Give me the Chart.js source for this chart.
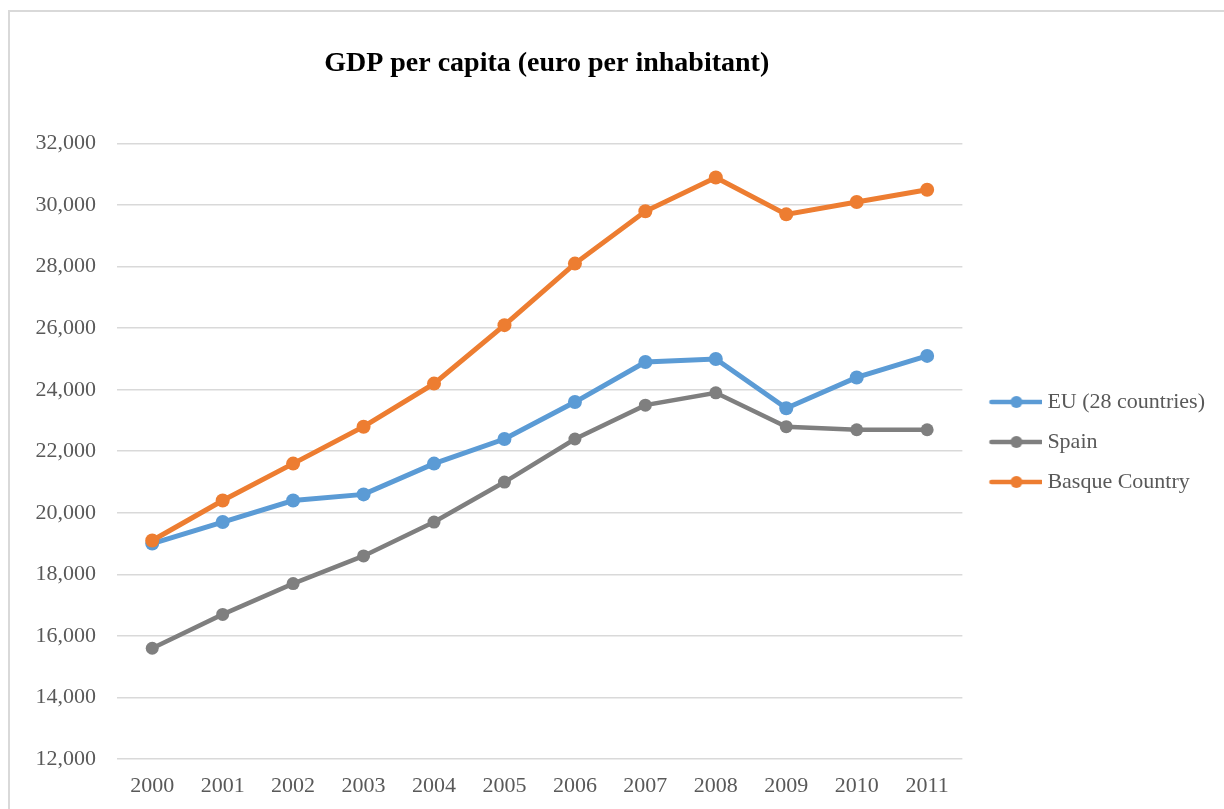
<!DOCTYPE html>
<html>
<head>
<meta charset="utf-8">
<script src="https://cdn.jsdelivr.net/npm/chart.js@4.4.1/dist/chart.umd.min.js"></script>
<style>
html,body{margin:0;padding:0;background:#ffffff;}
#wrap{position:relative;width:1224px;height:809px;overflow:hidden;}
#frame{position:absolute;left:8px;top:10px;width:1216px;height:799px;border-top:2.5px solid #d9d9d9;border-left:2.5px solid #d9d9d9;box-sizing:border-box;pointer-events:none;}
canvas{display:block;}
</style>
</head>
<body>
<div id="wrap"><canvas id="c" width="1224" height="809"></canvas><div id="frame"></div></div>
<script>
// ---- data ----
const years = ['2000','2001','2002','2003','2004','2005','2006','2007','2008','2009','2010','2011'];
const euValues     = [19000,19700,20400,20600,21600,22400,23600,24900,25000,23400,24400,25100];
const spainValues  = [15600,16700,17700,18600,19700,21000,22400,23500,23900,22800,22700,22700];
const basqueValues = [19100,20400,21600,22800,24200,26100,28100,29800,30900,29700,30100,30500];
const seriesNames  = ['EU (28 countries)','Spain','Basque Country'];
const titleText    = 'GDP per capita (euro per inhabitant)';
const yMin = 12000, yMax = 32000, yStep = 2000;

// ---- styles ----
const colors = ['#5B9BD5','#7F7F7F','#ED7D31'];
const lineWidths = [5,4.5,5];
const radii = [7,6.5,7];
const serif = "'Liberation Serif','Times New Roman',Times,serif";

function legendMarker(color, lw, r){
  const cv = document.createElement('canvas');
  cv.width = 68; cv.height = 16;
  const g = cv.getContext('2d');
  g.strokeStyle = color; g.lineWidth = lw; g.lineCap = 'round';
  g.beginPath(); g.moveTo(17, 8); g.lineTo(67, 8); g.stroke();
  g.fillStyle = color;
  g.beginPath(); g.arc(42, 8, r, 0, Math.PI*2); g.fill();
  return cv;
}
const markers = colors.map((c,i)=>legendMarker(c, 4.5, 6));

const seriesValues = [euValues, spainValues, basqueValues];
const datasets = seriesNames.map((name,i)=>({
  label: name,
  data: seriesValues[i],
  borderColor: colors[i],
  backgroundColor: colors[i],
  pointBackgroundColor: colors[i],
  pointBorderColor: colors[i],
  borderWidth: lineWidths[i],
  pointRadius: radii[i],
  pointBorderWidth: 0,
  pointHoverRadius: radii[i],
  tension: 0,
  order: 3 - i
}));

const legendShift = {
  id: 'legendShift',
  afterLayout(chart){
    if (chart.legend) { chart.legend.top += 4; chart.legend.bottom += 24; }
  }
};

new Chart(document.getElementById('c'), {
  type: 'line',
  data: { labels: years, datasets: datasets },
  plugins: [legendShift],
  options: {
    responsive: false,
    devicePixelRatio: 1,
    animation: false,
    layout: { padding: { left: 10, right: 9, top: 47, bottom: 0 } },
    plugins: {
      title: {
        display: true,
        text: '\u2002' + titleText,
        fullSize: false,
        color: '#000000',
        font: { family: serif, size: 28, weight: 'bold' },
        padding: { top: 0, bottom: 63 }
      },
      legend: {
        position: 'right',
        align: 'center',
        labels: {
          usePointStyle: true,
          pointStyleWidth: 56,
          padding: 18,
          color: '#595959',
          font: { family: serif, size: 22 },
          sort: (a,b) => a.datasetIndex - b.datasetIndex,
          generateLabels: (chart) => {
            const items = Chart.defaults.plugins.legend.labels.generateLabels(chart);
            items.forEach(it => { it.pointStyle = markers[it.datasetIndex]; });
            return items;
          }
        }
      },
      tooltip: { enabled: false }
    },
    scales: {
      x: {
        offset: true,
        afterFit: (s) => { s.height = 50; },
        grid: { display: false, drawTicks: false },
        border: { display: false },
        ticks: { color: '#595959', font: { family: serif, size: 22 }, padding: 14, maxRotation: 0, autoSkip: false }
      },
      y: {
        min: yMin, max: yMax,
        afterFit: (s) => { s.width = 107; },
        grid: { color: '#D9D9D9', lineWidth: 1.6, drawTicks: false },
        border: { display: false },
        ticks: {
          stepSize: yStep,
          color: '#595959',
          font: { family: serif, size: 22 },
          padding: 21,
          callback: (v) => Number(v).toLocaleString('en-US')
        }
      }
    }
  }
});
</script>
</body>
</html>
